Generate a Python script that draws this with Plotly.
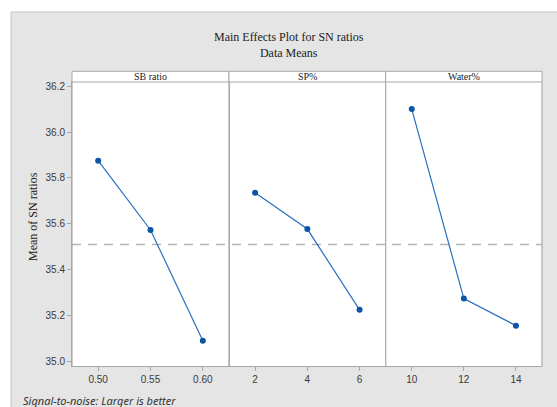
import plotly.graph_objects as go

# ---- data ----
factors = ["SB ratio", "SP%", "Water%"]
sb_levels = ["0.50", "0.55", "0.60"]
sb_means = [35.875, 35.573, 35.090]
sp_levels = ["2", "4", "6"]
sp_means = [35.735, 35.577, 35.225]
water_levels = ["10", "12", "14"]
water_means = [36.100, 35.274, 35.156]
grand_mean = 35.510
y_ticks = [35.0, 35.2, 35.4, 35.6, 35.8, 36.0, 36.2]

levels = [sb_levels, sp_levels, water_levels]
means = [sb_means, sp_means, water_means]

W, H = 557, 407
L, R, T, B = 72, 15, 82, 41
PW = W - L - R
PH = H - T - B

def px_x(px):
    return (px - L) / PW

def px_y(py):
    return (H - B - py) / PH

edges = [72, 229, 385.7, 542]
domains = [[px_x(edges[i]), px_x(edges[i + 1])] for i in range(3)]

fig = go.Figure()
axis_col = "#a8a8a8"
tick_font = dict(family="Liberation Sans, Arial, sans-serif", size=10, color="#3a3a3a")

for i in range(3):
    xa = "x" if i == 0 else f"x{i+1}"
    fig.add_trace(go.Scatter(
        x=levels[i], y=means[i], xaxis=xa, yaxis="y",
        mode="lines+markers",
        line=dict(color="#2a6fc0", width=1.2),
        marker=dict(color="#0a55a8", size=6),
        showlegend=False, hoverinfo="skip",
    ))

layout = dict(
    width=W, height=H,
    margin=dict(l=L, r=R, t=T, b=B, pad=0),
    paper_bgcolor="white",
    plot_bgcolor="white",
    yaxis=dict(
        range=[34.980, 36.218], tickvals=y_ticks,
        ticktext=[f"{v:.1f}" for v in y_ticks],
        ticks="outside", ticklen=4, tickcolor=axis_col,
        showgrid=False, zeroline=False,
        showline=True, linecolor=axis_col, linewidth=1, mirror=True,
        tickfont=tick_font,
        anchor="x",
    ),
)
for i in range(3):
    key = "xaxis" if i == 0 else f"xaxis{i+1}"
    layout[key] = dict(
        domain=domains[i], type="category",
        categoryorder="array", categoryarray=levels[i],
        range=[-0.5, 2.5],
        ticks="outside", ticklen=4, tickcolor=axis_col,
        showgrid=False, zeroline=False,
        showline=True, linecolor=axis_col, linewidth=1, mirror=True,
        tickfont=tick_font,
        anchor="y",
    )
fig.update_layout(**layout)

shapes = []
# grey background panel
shapes.append(dict(type="rect", xref="paper", yref="paper",
                   x0=px_x(11), x1=px_x(560), y0=px_y(410), y1=px_y(12),
                   fillcolor="#e5e5e5", line=dict(color="#c8c8c8", width=1), layer="below"))
# white plot area background
shapes.append(dict(type="rect", xref="paper", yref="paper",
                   x0=0, x1=1, y0=0, y1=1,
                   fillcolor="white", line=dict(width=0), layer="below"))
# grand mean reference line (dashed)
shapes.append(dict(type="line", xref="paper", yref="y",
                   x0=0, x1=1, y0=grand_mean, y1=grand_mean,
                   line=dict(color="#b4b4b4", width=1.5, dash="9px,7px"), layer="below"))
# panel separators
for e in edges:
    shapes.append(dict(type="line", xref="paper", yref="paper",
                       x0=px_x(e), x1=px_x(e), y0=0, y1=1,
                       line=dict(color=axis_col, width=1.2), layer="above"))
# strips
for i in range(3):
    shapes.append(dict(type="rect", xref="paper", yref="paper",
                       x0=domains[i][0], x1=domains[i][1], y0=1, y1=px_y(71.3),
                       fillcolor="white", line=dict(color=axis_col, width=1), layer="above"))
fig.update_layout(shapes=shapes)

serif = "Liberation Serif, Times New Roman, serif"
annotations = [
    dict(text="Main Effects Plot for SN ratios<br>Data Means", xref="paper", yref="paper",
         x=px_x(289), y=px_y(44.8), xanchor="center", yanchor="middle", showarrow=False,
         font=dict(family=serif, size=12, color="#222222")),
    dict(text="Mean of SN ratios", xref="paper", yref="paper",
         x=px_x(33), y=px_y(217), xanchor="center", yanchor="middle", textangle=-90,
         showarrow=False, font=dict(family=serif, size=12, color="#222222")),
    dict(text="<i>Signal-to-noise: Larger is better</i>", xref="paper", yref="paper",
         x=px_x(21), y=px_y(400), xanchor="left", yanchor="middle", showarrow=False,
         font=dict(family="Noto Sans, Open Sans, sans-serif", size=11, color="#333333")),
]
for i in range(3):
    annotations.append(dict(text=factors[i], xref="paper", yref="paper",
                            x=(domains[i][0] + domains[i][1]) / 2, y=px_y(76.8),
                            xanchor="center", yanchor="middle", showarrow=False,
                            font=dict(family=serif, size=10, color="#222222")))
fig.update_layout(annotations=annotations)

fig.write_html("out.html", config={"displayModeBar": False},
               post_script="document.body.style.margin='0';document.body.style.overflow='hidden';")
